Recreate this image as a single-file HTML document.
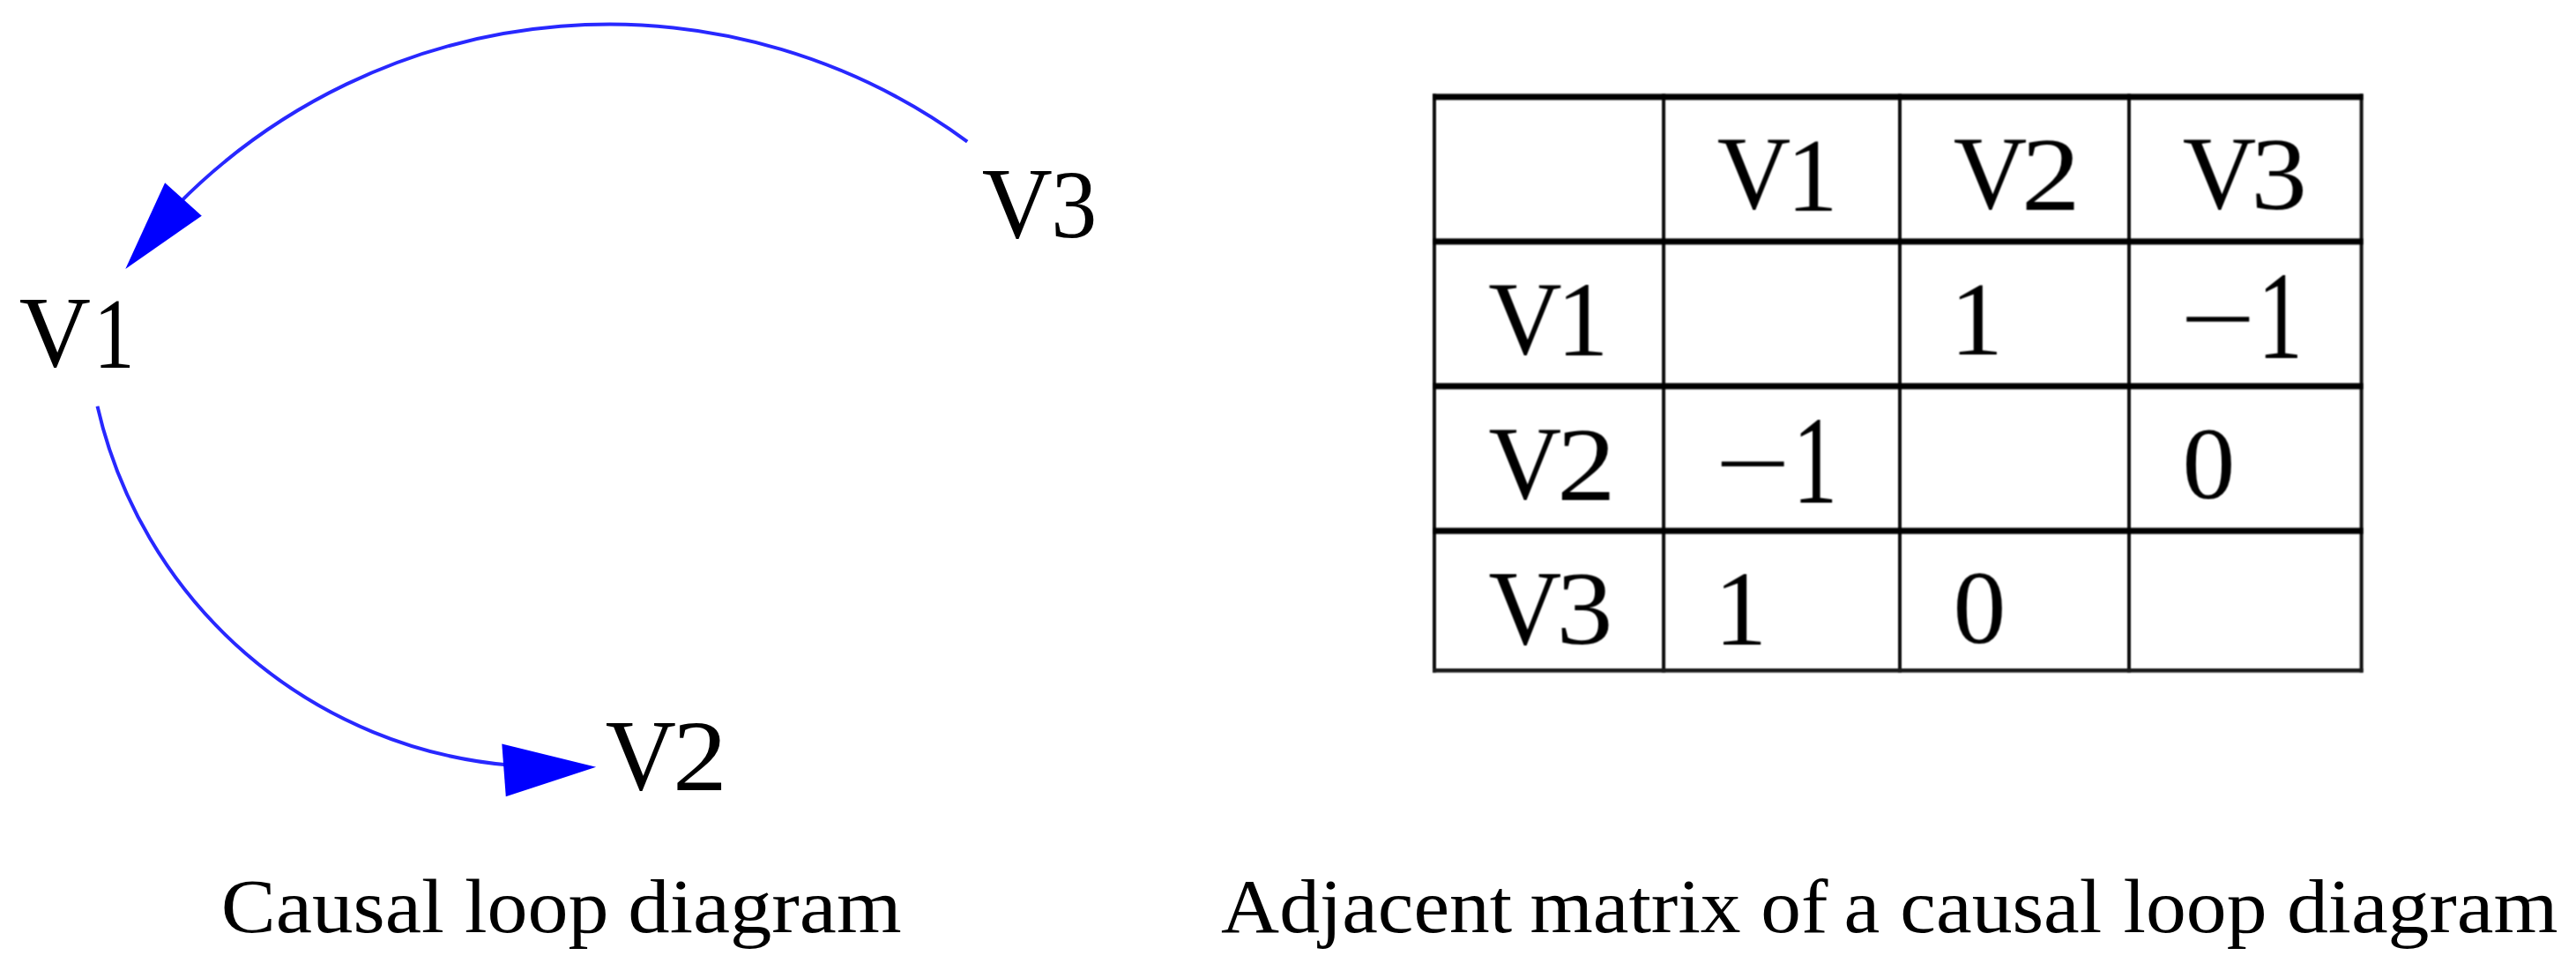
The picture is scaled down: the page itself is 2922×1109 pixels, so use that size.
<!DOCTYPE html>
<html><head><meta charset="utf-8"><title>Causal loop diagram and adjacent matrix</title>
<style>
html,body{margin:0;padding:0;background:#fff;}
body{width:2922px;height:1109px;overflow:hidden;}
svg{display:block;}
text{font-family:"Liberation Serif",serif;fill:#000;}
</style></head>
<body>
<svg width="2922" height="1109" viewBox="0 0 2922 1109">
<defs><filter id="soft" x="-2%" y="-2%" width="104%" height="104%" color-interpolation-filters="sRGB"><feConvolveMatrix order="3" kernelMatrix="1 2 1 2 4 2 1 2 1" divisor="16" edgeMode="none"/></filter></defs>
<rect width="2922" height="1109" fill="#fff"/>
<path d="M1097.21 160.56 A687.77 687.77 0 0 0 201.32 232.31" fill="none" stroke="#2828ff" stroke-width="4"/>
<path d="M110.50 460.65 A525.86 525.86 0 0 0 579.93 867.82" fill="none" stroke="#2828ff" stroke-width="4"/>
<polygon points="142.3,304.9 187.1,207.3 228.8,244.7" fill="#0000ff"/>
<polygon points="676.1,869.8 569.3,843.6 573.8,903.3" fill="#0000ff"/>
<text transform="translate(21.68 415.19) scale(0.9885 1)" font-size="113.73">V</text>
<text transform="translate(106.18 416.90) scale(0.8153 1)" font-size="113.79">1</text>
<text transform="translate(1113.69 269.19) scale(0.9760 1)" font-size="113.73">V</text>
<text transform="translate(1192.15 269.29) scale(0.9385 1)" font-size="111.08">3</text>
<text transform="translate(686.69 895.17) scale(0.9633 1)" font-size="115.22">V</text>
<text transform="translate(763.03 896.40) scale(1.0759 1)" font-size="115.02">2</text>
<g filter="url(#soft)">
<rect x="1625.00" y="106.40" width="4" height="656.20" fill="#111"/>
<rect x="1885.10" y="106.40" width="4" height="656.20" fill="#111"/>
<rect x="2153.00" y="106.40" width="4" height="656.20" fill="#111"/>
<rect x="2413.00" y="106.40" width="4" height="656.20" fill="#111"/>
<rect x="2676.60" y="106.40" width="4" height="656.20" fill="#111"/>
<rect x="1625.00" y="106.40" width="1055.60" height="7" fill="#000"/>
<rect x="1625.00" y="270.40" width="1055.60" height="7" fill="#000"/>
<rect x="1625.00" y="434.40" width="1055.60" height="7" fill="#000"/>
<rect x="1625.00" y="598.50" width="1055.60" height="7" fill="#000"/>
<rect x="1625.00" y="758.00" width="1055.60" height="4.6" fill="#1a1a1a"/>
<text transform="translate(1947.84 236.43) scale(0.9789 1)" font-size="118.21">V</text>
<text transform="translate(2026.60 238.80) scale(0.9790 1)" font-size="119.09">1</text>
<text transform="translate(2215.84 236.13) scale(0.9826 1)" font-size="117.76">V</text>
<text transform="translate(2292.76 238.20) scale(1.1301 1)" font-size="118.79">2</text>
<text transform="translate(2475.84 236.13) scale(0.9826 1)" font-size="117.76">V</text>
<text transform="translate(2553.34 237.03) scale(1.0896 1)" font-size="117.03">3</text>
<text transform="translate(1688.24 400.62) scale(0.9740 1)" font-size="118.66">V</text>
<text transform="translate(1765.70 403.10) scale(0.9774 1)" font-size="120.45">1</text>
<text transform="translate(1688.55 564.52) scale(0.9680 1)" font-size="118.36">V</text>
<text transform="translate(1765.98 566.60) scale(1.1202 1)" font-size="119.40">2</text>
<text transform="translate(1688.55 729.50) scale(0.9560 1)" font-size="119.85">V</text>
<text transform="translate(1765.52 730.41) scale(1.0747 1)" font-size="119.11">3</text>
<text transform="translate(2212.08 401.90) scale(1.0165 1)" font-size="118.33">1</text>
<text transform="translate(2475.61 565.03) scale(1.0194 1)" font-size="117.48">0</text>
<text transform="translate(1944.62 731.30) scale(0.9914 1)" font-size="120.76">1</text>
<text transform="translate(2215.61 729.02) scale(1.0182 1)" font-size="117.63">0</text>
<rect x="2480.3" y="359.3" width="71" height="5.4" fill="#000"/>
<text transform="translate(2560.81 406.10) scale(0.7226 1)" font-size="142.12">1</text>
<rect x="1952.8" y="523.4" width="70.8" height="5.4" fill="#000"/>
<text transform="translate(2033.41 570.20) scale(0.7177 1)" font-size="141.52">1</text>
</g>
<text transform="translate(250.78 1057.40) scale(1.0751 1)" font-size="86.50">Causal</text>
<text transform="translate(526.96 1057.40) scale(1.0628 1)" font-size="86.50">loop</text>
<text transform="translate(712.28 1057.40) scale(1.0951 1)" font-size="86.50">diagram</text>
<text transform="translate(1385.09 1057.40) scale(1.0574 1)" font-size="86.50">Adjacent</text>
<text transform="translate(1735.47 1057.40) scale(1.0594 1)" font-size="86.50">matrix</text>
<text transform="translate(1997.27 1057.40) scale(1.0572 1)" font-size="86.50">of</text>
<text transform="translate(2091.38 1057.40) scale(1.0624 1)" font-size="86.50">a</text>
<text transform="translate(2155.37 1057.40) scale(1.0585 1)" font-size="86.50">causal</text>
<text transform="translate(2408.57 1057.40) scale(1.0595 1)" font-size="86.50">loop</text>
<text transform="translate(2593.91 1057.40) scale(1.0855 1)" font-size="86.50">diagram</text>
</svg>
</body></html>
